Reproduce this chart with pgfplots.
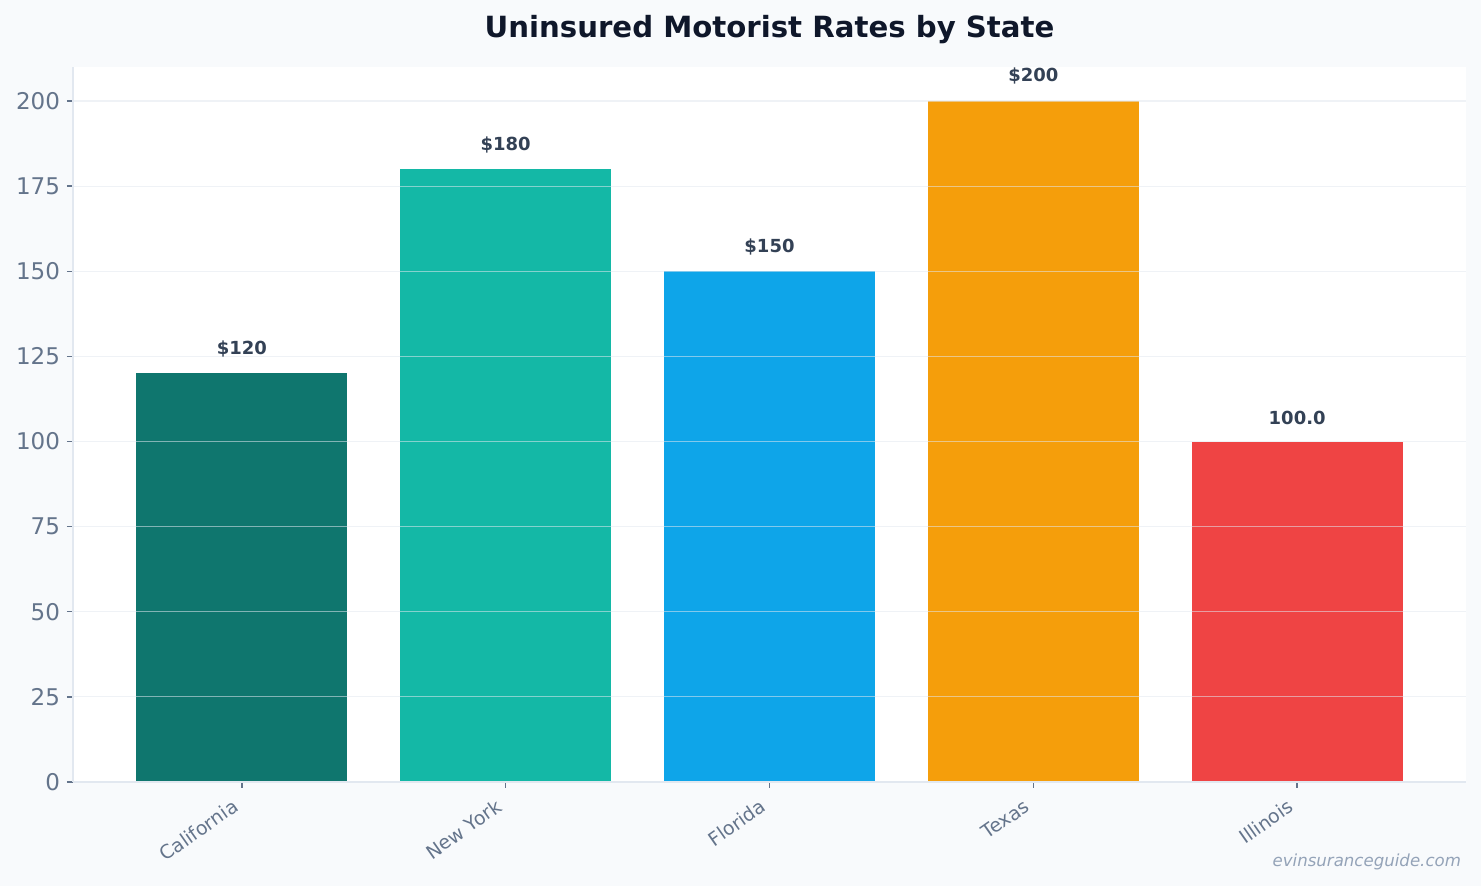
\documentclass[border=0pt]{standalone}
\usepackage{pgfplots}
\pgfplotsset{compat=1.18}
\usepackage{fontspec}
\setmainfont{DejaVu Sans}
\definecolor{bg}{HTML}{F8FAFC}
\definecolor{cA}{HTML}{0F766E}
\definecolor{cB}{HTML}{14B8A6}
\definecolor{cC}{HTML}{0EA5E9}
\definecolor{cD}{HTML}{F59E0B}
\definecolor{cE}{HTML}{EF4444}
\definecolor{tickc}{HTML}{64748B}
\definecolor{spinec}{HTML}{E2E8F0}
\definecolor{gridc}{HTML}{E2E8F0}
\definecolor{labc}{HTML}{334155}
\definecolor{titlec}{HTML}{0F172A}
\definecolor{wm}{HTML}{94A3B8}
\begin{document}
\begin{tikzpicture}
\fill[bg] (-36.5pt,-52pt) rectangle (704pt,391pt);
\begin{axis}[
  at={(0,0)}, anchor=south west,
  scale only axis, width=696.5pt, height=357.5pt,
  xmin=-0.64, xmax=4.64, ymin=0, ymax=210,
  axis background/.style={fill=white},
  ybar, bar width=0.8, bar shift=0pt,
  xtick={0,1,2,3,4},
  xticklabels={California,New York,Florida,Texas,Illinois},
  ytick={0,25,...,200},
  ymajorgrids,
  grid style={color=gridc, opacity=0.55, line width=0.6pt},
  axis on top,
  axis x line*=bottom, axis y line*=left,
  axis line style={spinec, line width=0.8pt, -},
  tick align=outside, major tick length=3pt,
  tick style={tickc, line width=0.7pt},
  /pgf/number format/assume math mode=true,
  yticklabel style={font=\fontsize{11.5}{13}\selectfont, color=tickc},
  xticklabel style={font=\fontsize{9.5}{11}\selectfont, color=tickc, inner sep=1pt, xshift=-5pt, yshift=-3.5pt, rotate=35, anchor=north east},
  every node near coord/.append style={font=\bfseries\fontsize{9}{11}\selectfont, color=labc, anchor=south, inner sep=0pt, yshift=8pt},
]
\addplot[fill=cA, draw=none, nodes near coords={\$120}] coordinates {(0,120)};
\addplot[fill=cB, draw=none, nodes near coords={\$180}] coordinates {(1,180)};
\addplot[fill=cC, draw=none, nodes near coords={\$150}] coordinates {(2,150)};
\addplot[fill=cD, draw=none, nodes near coords={\$200}] coordinates {(3,200)};
\addplot[fill=cE, draw=none, nodes near coords={100.0}] coordinates {(4,100)};
\end{axis}
\node[font=\bfseries\fontsize{14.6}{17}\selectfont, color=titlec] at (348.25pt,376pt) {Uninsured Motorist Rates by State};
\node[anchor=east, font=\itshape\fontsize{8.3}{10}\selectfont, color=wm] at (697.5pt,-40pt) {evinsuranceguide.com};
\end{tikzpicture}
\end{document}
